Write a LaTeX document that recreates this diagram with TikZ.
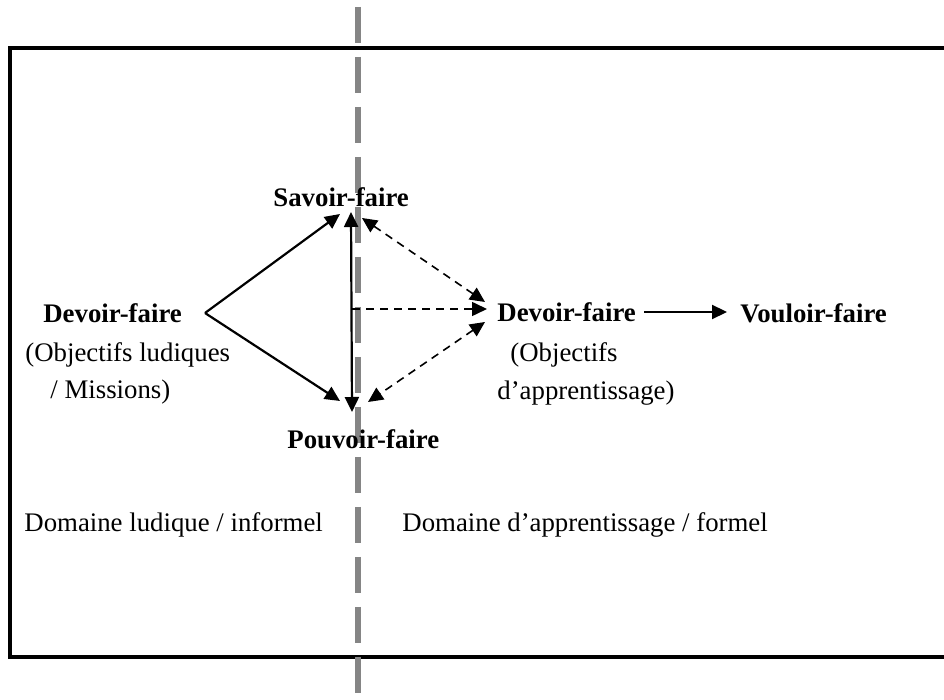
\documentclass[tikz,border=0pt]{standalone}
\usepackage{fontspec}
\setmainfont{Liberation Serif}
\usetikzlibrary{arrows.meta}
\begin{document}
\begin{tikzpicture}[x=0.5pt,y=-0.5pt,
  lbl/.style={inner sep=0pt, anchor=base west, font=\fontsize{13.4}{15}\selectfont},
  blbl/.style={lbl, font=\fontsize{13.4}{15}\selectfont\bfseries},
  solidarrow/.style={line width=1.1pt, -{Triangle[length=7.5pt,width=7pt]}},
  soliddouble/.style={line width=1.1pt, {Triangle[length=7.5pt,width=7pt]}-{Triangle[length=7.5pt,width=7pt]}},
  dasharrow/.style={line width=0.8pt, dash pattern=on 4pt off 3pt, -{Triangle[length=7.5pt,width=7pt]}},
  dashdouble/.style={line width=0.8pt, dash pattern=on 4pt off 3pt, {Triangle[length=7.5pt,width=7pt]}-{Triangle[length=7.5pt,width=7pt]}},
  frameline/.style={line width=1.6pt, line join=miter},
  divider/.style={line width=2.6pt, color=black!48, dash pattern=on 18pt off 7pt}
]
\useasboundingbox (0,0) rectangle (944,700);

% frame
\draw[frameline] (944,48) -| (10,657) -- (944,657);

% divider
\draw[divider] (358,7) -- (358,700);

% text nodes
\node[blbl] (sav) at (273,207) {Savoir-faire};
\node[blbl] (dev1) at (43,323) {Devoir-faire};
\node[lbl] (obj1) at (25,362) {(Objectifs ludiques};
\node[lbl] (mis) at (50,399) {/ Missions)};
\node[blbl] (pou) at (287,449) {Pouvoir-faire};
\node[blbl] (dev2) at (497,322) {Devoir-faire};
\node[lbl] (obj2) at (510,362) {(Objectifs};
\node[lbl] (app) at (497,400) {d’apprentissage)};
\node[blbl] (vou) at (740,323) {Vouloir-faire};
\node[lbl] (dom1) at (24,532) {Domaine ludique / informel};
\node[lbl] (dom2) at (402,532) {Domaine d’apprentissage / formel};

% connector end points
\coordinate (vtx) at (205,313);
\coordinate (savL) at (340,214);
\coordinate (pouL) at (340,401);
\coordinate (savM) at (351,212);
\coordinate (pouM) at (352,412);
\coordinate (mid) at (352,309);
\coordinate (devTip) at (487,309);
\coordinate (savR) at (362,218);
\coordinate (devU) at (485,302);
\coordinate (devD) at (485,322);
\coordinate (pouR) at (368,402);
\coordinate (devOut) at (644,312);
\coordinate (vouIn) at (727,312);

% connectors
\draw[solidarrow] (vtx) -- (savL);
\draw[solidarrow] (vtx) -- (pouL);
\draw[soliddouble] (savM) -- (pouM);
\draw[dasharrow] (mid) -- (devTip);
\draw[dashdouble] (savR) -- (devU);
\draw[dashdouble] (devD) -- (pouR);
\draw[solidarrow] (devOut) -- (vouIn);
\end{tikzpicture}
\end{document}
